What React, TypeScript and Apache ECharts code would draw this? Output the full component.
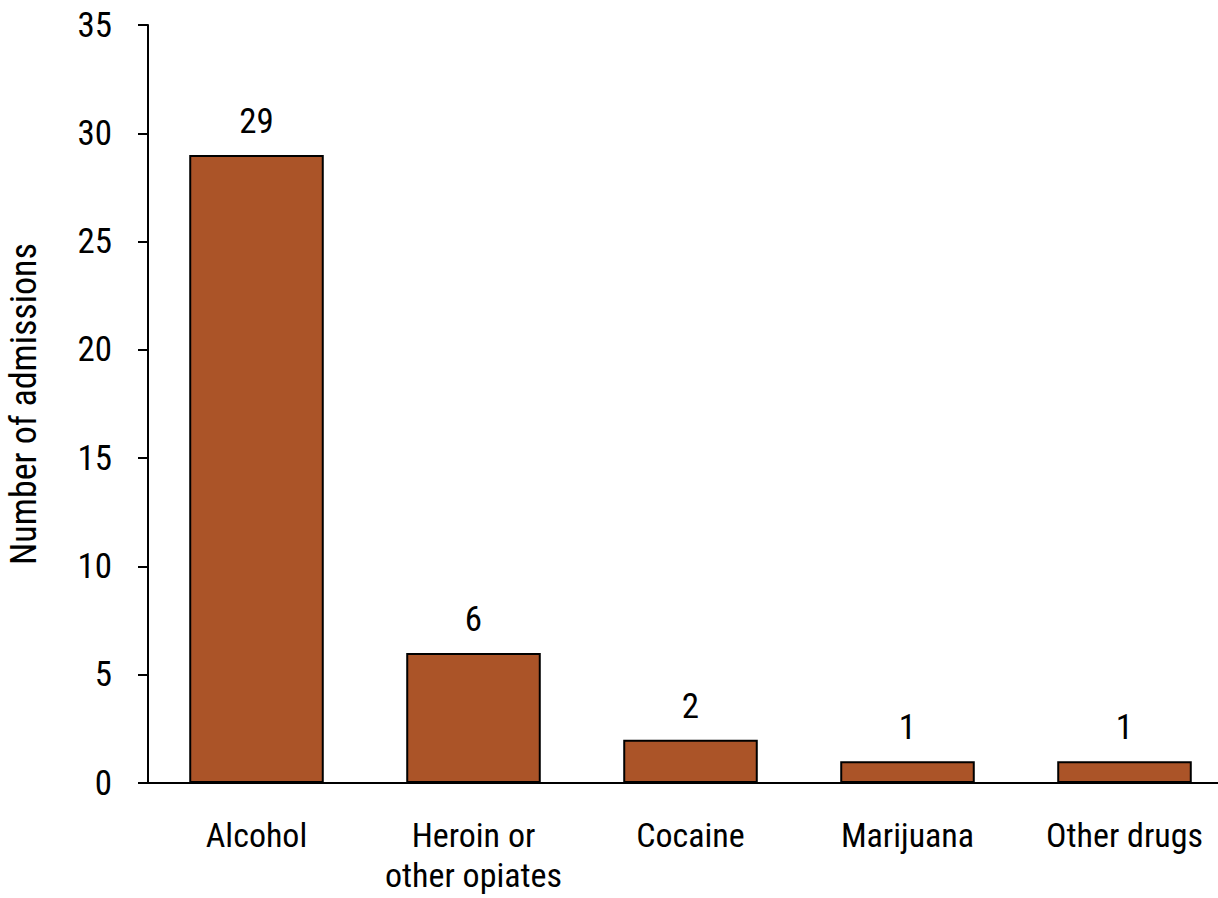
import React, { useEffect, useRef } from 'react';
import * as echarts from 'echarts';

const categories = ['Alcohol', 'Heroin or\nother opiates', 'Cocaine', 'Marijuana', 'Other drugs'];
const admissions = [29, 6, 2, 1, 1];

const FONT = "'Liberation Sans Narrow', 'Roboto Condensed', 'DejaVu Sans Condensed', sans-serif";

const App: React.FC = () => {
  const chartRef = useRef<HTMLDivElement>(null);

  useEffect(() => {
    if (!chartRef.current) return;
    const chart = echarts.init(chartRef.current, undefined, { renderer: 'svg' });
    chart.setOption({
      animation: false,
      textStyle: { fontFamily: FONT },
      grid: { left: 148, top: 25, right: -15, bottom: 115, outerBoundsMode: 'none', containLabel: false },
      xAxis: {
        type: 'category',
        data: categories,
        axisLine: { lineStyle: { color: '#000', width: 2 } },
        axisTick: { show: false },
        axisLabel: { color: '#000', fontSize: 34, fontFamily: FONT, margin: 32, lineHeight: 40, interval: 0, hideOverlap: false },
      },
      yAxis: {
        type: 'value',
        min: 0,
        max: 35,
        interval: 5,
        name: 'Number of admissions',
        nameLocation: 'middle',
        nameGap: 106,
        nameTextStyle: { color: '#000', fontSize: 36, fontFamily: FONT },
        axisLine: { show: true, lineStyle: { color: '#000', width: 2 } },
        axisTick: { show: true, length: 10, lineStyle: { color: '#000', width: 2 } },
        axisLabel: { color: '#000', fontSize: 35, fontFamily: FONT, margin: 36 },
        splitLine: { show: false },
      },
      series: [
        {
          type: 'bar',
          data: admissions,
          barWidth: '62%',
          itemStyle: { color: '#AB5428', borderColor: '#000', borderWidth: 2 },
          label: { show: true, position: 'top', distance: 16, color: '#000', fontSize: 35, fontFamily: FONT },
        },
      ],
    });
    return () => chart.dispose();
  }, []);

  return (
    <div
      ref={chartRef}
      style={{ position: 'fixed', left: 0, top: 0, width: 1218, height: 898, background: '#fff' }}
    />
  );
};

export default App;
